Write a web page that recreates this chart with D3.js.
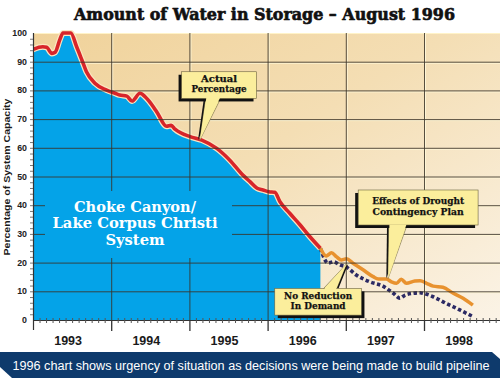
<!DOCTYPE html>
<html><head><meta charset="utf-8">
<script src="https://cdnjs.cloudflare.com/ajax/libs/d3/7.8.5/d3.min.js"></script>
<style>body{margin:0;background:#fff}svg{display:block}</style>
</head><body>
<svg id="c" width="500" height="378"></svg>
<script>
// ---- data ----
const title = "Amount of Water in Storage \u2013 August 1996";
const yLabel = "Percentage of System Capacity";
const caption = "1996 chart shows urgency of situation as decisions were being made to build pipeline";
const yearLabels = ["1993","1994","1995","1996","1997","1998"];
const yTicks = [0,10,20,30,40,50,60,70,80,90,100];
// months since Jan 1993
const actualMonths = [0,1.5,2.1,2.9,3.4,4.1,4.6,5.8,6.7,7.5,8.2,9.5,11.3,12.6,13.3,14.4,15.2,16.4,17.2,17.9,19.0,20.5,21.2,21.8,24.1,25.9,28.2,30.2,32.2,33.3,34.4,35.3,36.2,37.1,37.9,39.4,41.0,42.5,44.1];
const actualValues = [94.3,95.2,95.0,92.9,93.3,97.6,100,100,95.2,90.6,86.5,82.5,80.1,79,78.4,78,76.3,79,77.8,76,72.5,67.5,67.8,66.5,63.9,62.7,59.8,55.7,50.5,48.2,45.9,45.3,44.7,44.5,41.2,37.2,33.1,29,25];
const planMonths = [44.1,45.0,45.8,46.6,47.3,48.1,49.1,50.7,52.2,53.0,54.2,55.0,55.8,56.5,57.3,58.6,59.4,60.4,61.4,62.9,64.5,66.0,67.5];
const planValues = [25,22.3,23.4,22,20.9,21.3,19.8,17.4,15.1,14.3,14.3,13.3,12.8,14.2,12.8,13.6,13.7,12.8,11.8,11.4,9.3,7.6,5.2];
const noCutMonths = [44.1,45.3,46.1,47.1,48.1,49.6,51.7,53.7,55.3,56.3,57.1,58.3,59.4,59.9,61.4,63.4,65.5,67.5];
const noCutValues = [25,19.8,20.3,19.2,18.4,15.7,13.3,11.8,9.3,7.6,8.7,9.3,9.5,9.3,8.1,5.8,3.5,1.2];
const systemLines = ["Choke Canyon/","Lake Corpus Christi","System"];
const callouts = [
  {lines:["Actual","Percentage"], box:[22.8,34.3,86.5,77.2], base:[26.5,28.8], tip:[25.6,62.7], shadow:[-3,3], widths:[36,55]},
  {lines:["Effects of Drought","Contingency Plan"], box:[49.9,68.3,45.3,33.1], base:[54.6,57.4], tip:[54.5,14.5], shadow:[-3,3], widths:[92,91]},
  {lines:["No Reduction","In Demand"], box:[37.1,50.4,11.0,1.7], base:[44.6,46.6], tip:[48.1,19.5], shadow:[3,3], widths:[68,55], up:true}
];

// ---- layout ----
const svg = d3.select("#c");
const L=33, R=500, T=33, B=320;
const x = d3.scaleLinear().domain([0,72]).range([L, L+6*78.2]);
const y = d3.scaleLinear().domain([0,100]).range([B, T]);

const defs = svg.append("defs");
const g1 = defs.append("linearGradient").attr("id","bg").attr("x1","0").attr("y1","0").attr("x2","1").attr("y2","1");
g1.append("stop").attr("offset","0").attr("stop-color","#f0d29a");
g1.append("stop").attr("offset","0.45").attr("stop-color","#f4deb4");
g1.append("stop").attr("offset","1").attr("stop-color","#fbf3e6");
defs.append("clipPath").attr("id","plot").append("rect").attr("x",L).attr("y",T-4).attr("width",R-L).attr("height",B-T+4);

svg.append("rect").attr("x",L).attr("y",T).attr("width",R-L).attr("height",B-T).attr("fill","url(#bg)");

const gridH = yTicks.filter(v=>v>0 && v<100);
const gridV = d3.range(12,72,12);
// highlight lines (hidden under area)
svg.append("g").selectAll("line").data(gridH).join("line")
  .attr("x1",L).attr("x2",R).attr("y1",d=>y(d)+1.5).attr("y2",d=>y(d)+1.5)
  .attr("stroke","#fff6d6").attr("stroke-width",1);
svg.append("g").selectAll("line").data(gridV).join("line")
  .attr("x1",d=>x(d)+1.5).attr("x2",d=>x(d)+1.5).attr("y1",T).attr("y2",B)
  .attr("stroke","#fff6d6").attr("stroke-width",1);
svg.append("line").attr("x1",L).attr("x2",R).attr("y1",T+0.5).attr("y2",T+0.5).attr("stroke","#fff3c8").attr("stroke-width",1);

const plotG = svg.append("g").attr("clip-path","url(#plot)");
const actual = actualMonths.map((m,i)=>[m,actualValues[i]]);
plotG.append("path").datum(actual)
  .attr("d", d3.area().x(d=>x(d[0])).y0(B).y1(d=>y(d[1])).curve(d3.curveMonotoneX))
  .attr("fill","#04a3e8");

// dark gridlines
svg.append("g").selectAll("line").data(gridH).join("line")
  .attr("x1",L).attr("x2",R).attr("y1",d=>y(d)+0.5).attr("y2",d=>y(d)+0.5)
  .attr("stroke","#3b3428").attr("stroke-opacity",0.85).attr("stroke-width",1);
svg.append("g").selectAll("line").data(gridV).join("line")
  .attr("x1",d=>x(d)+0.5).attr("x2",d=>x(d)+0.5).attr("y1",T).attr("y2",B)
  .attr("stroke","#3b3428").attr("stroke-opacity",0.85).attr("stroke-width",1);

// blue mask behind system label
svg.append("rect").attr("x",45).attr("y",191).attr("width",187).attr("height",67).attr("fill","#04a3e8");

// lines
const lineGen = d3.line().x(d=>x(d[0])).y(d=>y(d[1])).curve(d3.curveMonotoneX);
plotG.append("path").datum(actual).attr("d",lineGen).attr("fill","none")
  .attr("stroke","#fbe6c0").attr("stroke-width",6).attr("stroke-linejoin","round");
plotG.append("path").datum(actual).attr("d",lineGen).attr("fill","none")
  .attr("stroke","#d8252a").attr("stroke-width",3.6).attr("stroke-linejoin","round");
const noCut = noCutMonths.map((m,i)=>[m,noCutValues[i]]);
plotG.append("path").datum(noCut).attr("d",lineGen).attr("fill","none")
  .attr("stroke","#2c2a64").attr("stroke-width",3.6).attr("stroke-dasharray","3.5,2.5");
const plan = planMonths.map((m,i)=>[m,planValues[i]]);
plotG.append("path").datum(plan).attr("d",lineGen).attr("fill","none")
  .attr("stroke","#e8922f").attr("stroke-width",3.5).attr("stroke-linejoin","round");

// axes
const axG = svg.append("g");
axG.append("line").attr("x1",L).attr("x2",R).attr("y1",B+0.5).attr("y2",B+0.5).attr("stroke","#333").attr("stroke-width",1.2);
axG.append("line").attr("x1",L+0.5).attr("x2",L+0.5).attr("y1",T).attr("y2",B+10).attr("stroke","#333").attr("stroke-width",1.2);
axG.selectAll(".mt").data(d3.range(1,72).filter(m=>m%12)).join("line")
  .attr("x1",d=>x(d)+0.5).attr("x2",d=>x(d)+0.5).attr("y1",B-2).attr("y2",B+3)
  .attr("stroke","#555").attr("stroke-width",1);
axG.selectAll(".yt").data(d3.range(12,72,12)).join("line")
  .attr("x1",d=>x(d)+0.5).attr("x2",d=>x(d)+0.5).attr("y1",B).attr("y2",B+11)
  .attr("stroke","#333").attr("stroke-width",1.3);
axG.selectAll(".ymt").data(d3.range(2,100,2)).join("line")
  .attr("x1",L-3).attr("x2",L).attr("y1",d=>y(d)+0.5).attr("y2",d=>y(d)+0.5)
  .attr("stroke","#555").attr("stroke-width",0.8);
axG.selectAll(".ylab").data(yTicks).join("text")
  .attr("x",L-6).attr("y",d=>y(d)+3).attr("text-anchor","end")
  .attr("font-family","Liberation Sans, Arial, sans-serif").attr("font-weight","bold").attr("font-size",8.8)
  .attr("fill","#222").text(d=>d);
axG.selectAll(".xlab").data(yearLabels).join("text")
  .attr("x",(d,i)=>x(i*12+6)-4).attr("y",345).attr("text-anchor","middle")
  .attr("font-family","Liberation Sans, Arial, sans-serif").attr("font-weight","bold").attr("font-size",12.5)
  .attr("fill","#1a1a1a").text(d=>d);

svg.append("text").attr("transform","translate(10,177) rotate(-90)").attr("text-anchor","middle")
  .attr("font-family","Liberation Sans, Arial, sans-serif").attr("font-weight","bold").attr("font-size",9.8)
  .attr("textLength",157).attr("lengthAdjust","spacingAndGlyphs").attr("fill","#1a1a1a").text(yLabel);

svg.append("text").attr("x",264.5).attr("y",20).attr("text-anchor","middle")
  .attr("font-family","DejaVu Serif, serif").attr("font-weight","bold").attr("font-size",17.5)
  .attr("stroke","#111").attr("stroke-width",0.7).attr("stroke-linejoin","round")
  .attr("textLength",381).attr("lengthAdjust","spacingAndGlyphs").attr("fill","#111").text(title);

// system label
const sysW=[122,165,59], sysY=[211.5,228,244.5];
svg.append("g").selectAll("text").data(systemLines).join("text")
  .attr("x",135).attr("y",(d,i)=>sysY[i]).attr("text-anchor","middle")
  .attr("font-family","DejaVu Serif, serif").attr("font-weight","bold").attr("font-size",14)
  .attr("textLength",(d,i)=>sysW[i]).attr("lengthAdjust","spacingAndGlyphs")
  .attr("fill","#fff").text(d=>d);

// callouts
callouts.forEach(c=>{
  const bx0=x(c.box[0]), bx1=x(c.box[1]), by0=y(c.box[2]), by1=y(c.box[3]);
  const g = svg.append("g");
  const baseY = c.up ? by0 : by1;
  const tri = [[x(c.base[0]),baseY],[x(c.base[1]),baseY],[x(c.tip[0]),y(c.tip[1])]];
  g.append("polygon").attr("points",tri.map(p=>[p[0]+c.shadow[0]*0.6,p[1]].join(",")).join(" ")).attr("fill","#111");
  g.append("polygon").attr("points",tri.map(p=>p.join(",")).join(" ")).attr("fill","#fbee9c").attr("stroke","#6b6240").attr("stroke-width",0.6);
  g.append("rect").attr("x",bx0+c.shadow[0]).attr("y",by0+c.shadow[1]).attr("width",bx1-bx0).attr("height",by1-by0).attr("fill","#111");
  g.append("rect").attr("x",bx0).attr("y",by0).attr("width",bx1-bx0).attr("height",by1-by0)
    .attr("fill","#fbee9c").attr("stroke","#6b6240").attr("stroke-width",0.6);
  g.append("polygon").attr("points",tri.map((p,i)=>i<2?[p[0]+(i?-0.6:0.6),p[1]+(c.up?0.6:-0.6)].join(","):p.join(",")).join(" ")).attr("fill","#fbee9c");
  const cx=(bx0+bx1)/2, cy=(by0+by1)/2;
  g.selectAll("text").data(c.lines).join("text")
    .attr("x",cx).attr("y",(d,i)=>cy-1.5+(i-0.5)*10.5+3.5).attr("text-anchor","middle")
    .attr("font-family","DejaVu Serif, serif").attr("font-weight","bold").attr("font-size",9.2)
    .attr("stroke","#111").attr("stroke-width",0.25)
    .attr("textLength",(d,i)=>c.widths[i]).attr("lengthAdjust","spacingAndGlyphs")
    .attr("fill","#111").text(d=>d);
});

// caption banner
svg.append("path").attr("d","M0,352 H492 L500,359 V378 H12 L0,367 Z").attr("fill","#0e3a6c");
svg.append("text").attr("x",251).attr("y",369.5).attr("text-anchor","middle")
  .attr("font-family","Liberation Sans, Arial, sans-serif").attr("font-size",12.3)
  .attr("textLength",477).attr("lengthAdjust","spacingAndGlyphs").attr("fill","#fff").text(caption);
</script>
</body></html>
